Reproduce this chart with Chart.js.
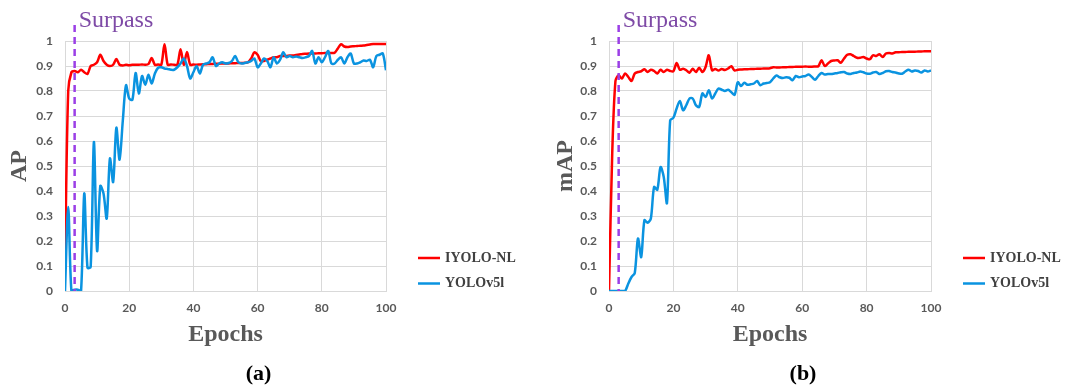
<!DOCTYPE html>
<html>
<head>
<meta charset="utf-8">
<script src="https://cdn.jsdelivr.net/npm/chart.js@4/dist/chart.umd.min.js"></script>
<style>
  body { margin: 0; background: #fff; width: 1071px; height: 386px; overflow: hidden; position: relative; }
  canvas { position: absolute; top: 0; }
  #chartA { left: 0; }
  #chartB { left: 540px; }
</style>
</head>
<body>
<canvas id="chartA" width="540" height="386"></canvas>
<canvas id="chartB" width="531" height="386"></canvas>
<script>
// Epochs 0..100 (x categories)
const epochs = Array.from({ length: 101 }, (_, i) => i);
const seriesNames = ['IYOLO-NL', 'YOLOv5l'];
const xTickLabels = ['0', '20', '40', '60', '80', '100'];
const yTickLabels = ['0', '0.1', '0.2', '0.3', '0.4', '0.5', '0.6', '0.7', '0.8', '0.9', '1'];
const surpassEpoch = 3;
const surpassLabel = 'Surpass';

// (a) AP
const apIyolo = [
  0.10, 0.80, 0.875, 0.88, 0.875, 0.885, 0.875, 0.868, 0.90, 0.905,
  0.915, 0.945, 0.92, 0.905, 0.90, 0.905, 0.928, 0.905, 0.902, 0.905,
  0.903, 0.905, 0.905, 0.905, 0.906, 0.905, 0.908, 0.932, 0.905, 0.906,
  0.905, 0.987, 0.905, 0.906, 0.905, 0.905, 0.967, 0.905, 0.956, 0.905,
  0.906, 0.905, 0.906, 0.907, 0.907, 0.908, 0.908, 0.909, 0.909, 0.91,
  0.91, 0.91, 0.911, 0.911, 0.912, 0.912, 0.913, 0.915, 0.93, 0.955,
  0.945, 0.92, 0.92, 0.925, 0.93, 0.935, 0.935, 0.94, 0.94, 0.94,
  0.942, 0.942, 0.944, 0.946, 0.948, 0.949, 0.95, 0.95, 0.95, 0.951,
  0.951, 0.952, 0.952, 0.952, 0.953, 0.97, 0.987, 0.978, 0.976, 0.978,
  0.979, 0.98, 0.981, 0.982, 0.984, 0.986, 0.988, 0.988, 0.988, 0.988,
  0.988
];
const apYolo = [
  0.0, 0.336, 0.0, 0.005, 0.005, 0.0, 0.39, 0.093, 0.096, 0.596,
  0.16, 0.42, 0.39, 0.29, 0.53, 0.436, 0.653, 0.525, 0.68, 0.823,
  0.77, 0.765, 0.872, 0.79, 0.86, 0.825, 0.865, 0.83, 0.87, 0.893,
  0.895, 0.89, 0.888, 0.885, 0.885, 0.895, 0.91, 0.93, 0.90, 0.85,
  0.875, 0.90, 0.87, 0.905, 0.91, 0.915, 0.935, 0.90, 0.91, 0.915,
  0.91, 0.912, 0.92, 0.94, 0.915, 0.91, 0.912, 0.915, 0.92, 0.93,
  0.895, 0.91, 0.93, 0.92, 0.895, 0.935, 0.91, 0.925, 0.955, 0.935,
  0.94, 0.935, 0.938, 0.935, 0.932, 0.935, 0.94, 0.96, 0.91, 0.935,
  0.915, 0.935, 0.96, 0.91, 0.91, 0.925, 0.935, 0.91, 0.935, 0.95,
  0.91, 0.91, 0.915, 0.922, 0.92, 0.925, 0.895, 0.94, 0.945, 0.95,
  0.883
];

// (b) mAP
const mapIyolo = [
  0.0, 0.55, 0.84, 0.863, 0.85, 0.87, 0.856, 0.84, 0.87, 0.876,
  0.879, 0.887, 0.876, 0.885, 0.88, 0.87, 0.885, 0.876, 0.885, 0.88,
  0.879, 0.912, 0.885, 0.889, 0.883, 0.873, 0.889, 0.876, 0.893, 0.876,
  0.896, 0.943, 0.883, 0.888, 0.882, 0.888, 0.884, 0.89, 0.899, 0.882,
  0.885, 0.886, 0.887, 0.887, 0.888, 0.888, 0.889, 0.889, 0.89, 0.89,
  0.891, 0.895, 0.894, 0.894, 0.895, 0.895, 0.896, 0.896, 0.897, 0.897,
  0.897, 0.898, 0.897, 0.897, 0.898, 0.899, 0.923, 0.90, 0.91, 0.92,
  0.922, 0.923, 0.913, 0.93, 0.945, 0.947, 0.94, 0.933, 0.933, 0.936,
  0.93, 0.927, 0.943, 0.94, 0.947, 0.936, 0.95, 0.952, 0.95, 0.955,
  0.955, 0.956, 0.956, 0.957, 0.957, 0.957, 0.958, 0.958, 0.959, 0.959,
  0.959
];
const mapYolo = [
  0.0, 0.0, 0.0, 0.0, 0.0, 0.0, 0.03, 0.056, 0.072, 0.21,
  0.136, 0.283, 0.273, 0.29, 0.416, 0.405, 0.496, 0.456, 0.352, 0.683,
  0.693, 0.73, 0.76, 0.723, 0.743, 0.77, 0.77, 0.743, 0.736, 0.79,
  0.776, 0.803, 0.77, 0.79, 0.81, 0.805, 0.80, 0.805, 0.795, 0.785,
  0.835, 0.82, 0.833, 0.825, 0.827, 0.83, 0.84, 0.823, 0.83, 0.832,
  0.835, 0.85, 0.862, 0.855, 0.852, 0.855, 0.853, 0.843, 0.86, 0.855,
  0.858, 0.86, 0.866, 0.856, 0.845, 0.86, 0.872, 0.866, 0.868, 0.868,
  0.87, 0.872, 0.875, 0.876, 0.87, 0.868, 0.872, 0.874, 0.878, 0.875,
  0.87, 0.869, 0.874, 0.876, 0.868, 0.872, 0.879, 0.88, 0.876, 0.874,
  0.87, 0.869, 0.878, 0.885, 0.878, 0.882, 0.88, 0.874, 0.882, 0.878,
  0.882
];

const RED = '#FF0000';
const BLUE = '#0A93E0';
const GRID = '#D9D9D9';
const AXIS_TEXT = '#595959';
const SERIF = '"Liberation Serif", "Times New Roman", serif';

// dashed "Surpass" marker, legend and panel letter
function extrasPlugin(panel) {
  return {
    id: 'extras',
    afterDatasetsDraw(chart) {
      const { ctx, chartArea, scales } = chart;
      const x = scales.x.getPixelForValue(surpassEpoch);
      ctx.save();
      ctx.strokeStyle = '#9B3FE6';
      ctx.lineWidth = 2.5;
      ctx.setLineDash([7, 5]);
      ctx.beginPath();
      ctx.moveTo(x, chartArea.top - 16);
      ctx.lineTo(x, chartArea.bottom);
      ctx.stroke();
      ctx.setLineDash([]);

      ctx.fillStyle = '#7E4AA6';
      ctx.font = '24px ' + SERIF;
      ctx.textBaseline = 'alphabetic';
      ctx.textAlign = 'left';
      ctx.fillText(surpassLabel, x + 4, 27);

      // legend
      ctx.font = 'bold 14px ' + SERIF;
      ctx.textBaseline = 'middle';
      chart.data.datasets.forEach((ds, i) => {
        const y = chartArea.top + 217 + i * 25.5;
        const x0 = chartArea.right + 32;
        ctx.strokeStyle = ds.borderColor;
        ctx.lineWidth = 2.5;
        ctx.beginPath();
        ctx.moveTo(x0, y);
        ctx.lineTo(x0 + 22, y);
        ctx.stroke();
        ctx.fillStyle = '#404040';
        ctx.fillText(ds.label, x0 + 27, y);
      });

      // panel letter
      ctx.fillStyle = '#000';
      ctx.font = 'bold 22px ' + SERIF;
      ctx.textAlign = 'center';
      ctx.fillText(panel, (chartArea.left + chartArea.right) / 2 + 33, 374);
      ctx.restore();
    }
  };
}

function makeChart(id, yTitle, redVals, blueVals, panel, yWidth, padRight, yTitlePad) {
  const ctx = document.getElementById(id).getContext('2d');
  return new Chart(ctx, {
    type: 'line',
    data: {
      datasets: [{
        label: seriesNames[0],
        data: epochs.map((e, i) => ({ x: e, y: redVals[i] })),
        borderColor: RED,
        borderWidth: 2.5,
        pointRadius: 0,
        tension: 0.3,
        order: 2
      }, {
        label: seriesNames[1],
        data: epochs.map((e, i) => ({ x: e, y: blueVals[i] })),
        borderColor: BLUE,
        borderWidth: 2.5,
        pointRadius: 0,
        tension: 0.3,
        order: 1
      }]
    },
    options: {
      responsive: false,
      animation: false,
      layout: { padding: { top: 41, right: padRight, bottom: 0, left: 0 } },
      plugins: {
        legend: { display: false },
        tooltip: { enabled: false }
      },
      scales: {
        x: {
          type: 'linear',
          min: 0,
          max: 100,
          afterFit: (s) => { s.height = 95; },
          ticks: {
            stepSize: 20,
            padding: 10,
            color: AXIS_TEXT,
            font: { family: 'Lato', weight: 'bold', size: 12 },
            callback: (v, i) => xTickLabels[i]
          },
          grid: { color: GRID, lineWidth: 1, drawTicks: false },
          border: { color: GRID, width: 1 },
          title: {
            display: true,
            text: 'Epochs',
            color: AXIS_TEXT,
            font: { family: SERIF, weight: 'bold', size: 24 },
            padding: { top: 0, bottom: 37 }
          }
        },
        y: {
          min: 0,
          max: 1,
          afterFit: (s) => { s.width = yWidth; },
          ticks: {
            stepSize: 0.1,
            padding: 12,
            color: AXIS_TEXT,
            font: { family: 'Lato', weight: 'bold', size: 12 },
            callback: (v, i) => yTickLabels[i]
          },
          grid: { color: GRID, lineWidth: 1, drawTicks: false },
          border: { color: GRID, width: 1 },
          title: {
            display: true,
            text: yTitle,
            color: AXIS_TEXT,
            font: { family: SERIF, weight: 'bold', size: 24 },
            padding: { top: yTitlePad, bottom: 0 }
          }
        }
      }
    },
    plugins: [extrasPlugin(panel)]
  });
}

makeChart('chartA', 'AP', apIyolo, apYolo, '(a)', 65, 154, 5);
makeChart('chartB', 'mAP', mapIyolo, mapYolo, '(b)', 69, 140, 11);
</script>
</body>
</html>
